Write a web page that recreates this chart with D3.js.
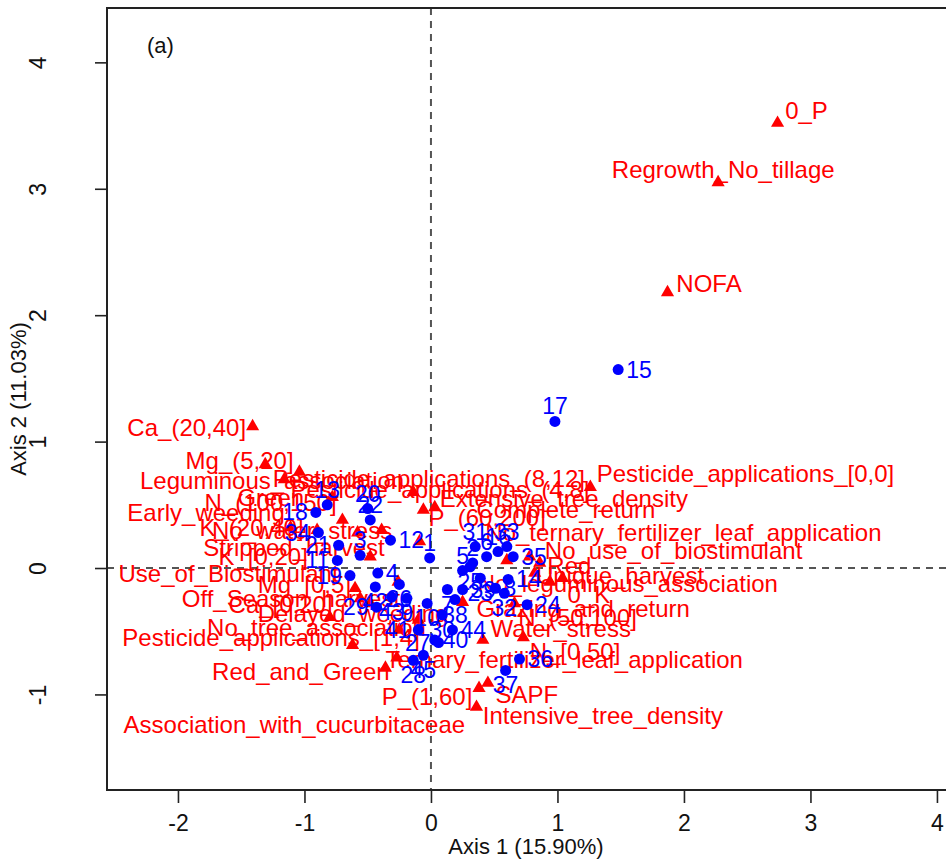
<!DOCTYPE html>
<html>
<head>
<meta charset="utf-8">
<script src="https://cdn.jsdelivr.net/npm/d3@7"></script>
<style>
  body { margin: 0; background: #fff; }
  svg { display: block; }
  .pt { font-family: "Liberation Sans", Arial, Helvetica, sans-serif; }
  .ax { font-family: "Liberation Sans Narrow", "Liberation Sans", Arial, sans-serif; }
</style>
</head>
<body>
<div id="chart"></div>
<script>
// individuals (blue dots), MCA coordinates
const indIds = [1, 2, 3, 4, 5, 6, 7, 8, 9, 10, 11, 12, 13, 14, 15, 16, 17, 18, 19, 20, 21, 22, 23,
    24, 25, 26, 27, 28, 29, 30, 31, 32, 33, 34, 35, 36, 37, 38, 39, 40, 41, 42, 43, 44, 45]
const indX = [-0.01, 0.33, -0.56, -0.42, 0.25, 0.44, 0.13, 0.51, -0.19, -0.03, -0.74, -0.32, -0.82, 0.61,
    1.48, 0.53, 0.98, -0.91, -0.64, -0.50, -0.73, -0.48, 0.39, 0.76, 0.31, -0.25, 0.06, -0.14, -0.43,
    0.09, 0.35, 0.58, 0.60, -0.89, 0.65, 0.70, 0.59, 0.19, 0.25, 0.03, -0.10, -0.44, -0.31, 0.17, -0.06]
const indY = [0.08, 0.04, 0.10, -0.04, -0.02, 0.09, -0.17, -0.16, -0.24, -0.28, 0.06, 0.22, 0.50, -0.09,
    1.57, 0.13, 1.16, 0.44, -0.06, 0.47, 0.18, 0.38, -0.08, -0.29, 0.01, -0.13, -0.59, -0.73, -0.31,
    -0.37, 0.17, -0.20, 0.17, 0.28, 0.09, -0.72, -0.81, -0.25, -0.17, -0.57, -0.49, -0.15, -0.23, -0.49, -0.69]
// label side as in R text(pos=): 1 below, 2 left, 3 above, 4 right
const indPos = [3, 3, 3, 4, 3, 3, 1, 4, 1, 1, 2, 4, 3, 4, 4, 3, 3, 2, 2, 3, 2, 3, 1,
    4, 1, 1, 2, 1, 2, 1, 3, 1, 3, 2, 4, 4, 1, 1, 4, 4, 2, 1, 1, 4, 1]

// variable categories (red triangles)
const catNames = ['0_P', 'Regrowth_No_tillage', 'NOFA', 'Pesticide_applications_[0,0]', 'Ca_(20,40]',
    'Mg_(5,20]', 'Leguminous_association', 'Pesticide_applications_(8,12]', 'Pesticide_applications_(4,8]',
    'Green', 'Early_weeding', 'N_(100,150]', 'K_(20,40]', 'No_water_stress', 'Stripped_harvest',
    'K_[0,20]', 'Use_of_Biostimulant', 'Mg_[0,5]', 'Off_Season_harvest', 'Ca_[0,20]', 'Delayed_weeding',
    'No_tree_association', 'Pesticide_applications_[1,4]', 'Red_and_Green',
    'Ternary_fertilizer_leaf_application', 'Association_with_cucurbitaceae', 'P_(1,60]', 'SAPF',
    'Intensive_tree_density', 'Water_stress', 'N_[0,50]', 'N_(50,100]', 'Grazing_and_return', '0_K',
    'No_leguminous_association', 'Unique_harvest', 'Red', 'No_use_of_biostimulant',
    'No_ternary_fertilizer_leaf_application', 'Extensive_tree_density', 'Complete_return', 'P_(60,200]']
const catX = [2.74, 2.27, 1.87, 1.26, -1.41, -1.31, -1.16, -1.04, -0.14, -0.78, -1.11, -0.70, -0.90, -0.58,
    -0.39, -0.48, -0.26, -0.60, -0.56, -0.48, -0.10, -0.25, -0.62, -0.36, -0.27, -0.80, 0.38, 0.45, 0.36,
    0.41, 0.73, 0.66, 0.25, 0.94, 0.82, 1.04, 0.86, 0.78, 0.60, 0.03, -0.06, -0.09]
const catY = [3.52, 3.05, 2.18, 0.64, 1.12, 0.82, 0.70, 0.76, 0.60, 0.56, 0.32, 0.38, 0.30, 0.28, 0.30,
    0.09, -0.11, -0.16, -0.24, -0.28, -0.41, -0.49, -0.61, -0.79, -0.71, -0.39, -0.95, -0.91, -1.10,
    -0.57, -0.55, -0.28, -0.27, -0.11, -0.04, -0.08, 0.04, 0.09, 0.06, 0.48, 0.46, 0.21]
// where each label starts (left edge, vertical middle), as placed in the figure
const catLabX = [2.80, 1.43, 1.94, 1.31, -2.40, -1.94, -2.30, -1.25, -1.11, -1.53, -2.40, -1.79, -1.83,
    -1.73, -1.80, -1.68, -2.47, -1.37, -1.97, -1.60, -1.37, -1.77, -2.44, -1.73, -0.36, -2.43, -0.39,
    0.51, 0.41, 0.47, 0.78, 0.69, 0.36, 1.08, 0.37, 0.83, 0.92, 0.90, 0.43, 0.07, 0.36, -0.02]
const catLabY = [3.62, 3.15, 2.25, 0.75, 1.11, 0.85, 0.69, 0.71, 0.62, 0.56, 0.44, 0.52, 0.32, 0.30, 0.16,
    0.09, -0.04, -0.13, -0.24, -0.29, -0.36, -0.47, -0.55, -0.82, -0.72, -1.24, -1.02, -1.00, -1.17,
    -0.48, -0.66, -0.39, -0.32, -0.21, -0.12, -0.06, 0.02, 0.14, 0.28, 0.55, 0.46, 0.40]

const xTicks = [-2, -1, 0, 1, 2, 3, 4]
const yTicks = [-1, 0, 1, 2, 3, 4]
const xTitle = 'Axis 1 (15.90%)'
const yTitle = 'Axis 2 (11.03%)'
const panel = '(a)'

const width = 946, height = 859
const margin = {left: 107, top: 8, right: -6, bottom: 69}
const innerW = width - margin.left - margin.right
const innerH = height - margin.top - margin.bottom

const svg = d3.select('#chart').append('svg')
    .attr('width', width)
    .attr('height', height)

const g = svg.append('g')
    .attr('transform', `translate(${margin.left},${margin.top})`)

const x = d3.scaleLinear().domain([-2.561, 4.119]).range([0, innerW])
const y = d3.scaleLinear().domain([-1.756, 4.430]).range([innerH, 0])

// dashed origin lines
g.append('line')
    .attr('x1', x(0)).attr('x2', x(0)).attr('y1', 0).attr('y2', innerH)
    .attr('stroke', '#555').attr('stroke-width', 2).attr('stroke-dasharray', '7,6')
g.append('line')
    .attr('x1', 0).attr('x2', innerW).attr('y1', y(0)).attr('y2', y(0))
    .attr('stroke', '#555').attr('stroke-width', 2).attr('stroke-dasharray', '7,6')

// axes
const xAxis = g.append('g')
    .attr('class', 'ax')
    .attr('transform', `translate(0,${innerH})`)
    .call(d3.axisBottom(x).tickValues(xTicks).tickSize(13).tickPadding(12).tickFormat(d => String(d)))
const yAxis = g.append('g')
    .attr('class', 'ax')
    .call(d3.axisLeft(y).tickValues(yTicks).tickSize(12).tickFormat(d => String(d)))

for (const a of [xAxis, yAxis]) {
    a.select('.domain').remove()
    a.selectAll('line').attr('stroke', '#222').attr('stroke-width', 1.6)
    a.selectAll('text').attr('font-size', 23).attr('fill', '#111')
        .attr('font-family', '"Liberation Sans Narrow", "Liberation Sans", Arial, sans-serif')
}
yAxis.selectAll('text')
    .attr('x', null).attr('dy', null)
    .attr('text-anchor', 'middle')
    .attr('dominant-baseline', 'central')
    .attr('transform', 'translate(-69,0) rotate(-90)')

// axis titles
svg.append('text')
    .attr('class', 'ax')
    .attr('x', 526)
    .attr('y', 846)
    .attr('text-anchor', 'middle')
    .attr('dominant-baseline', 'central')
    .attr('font-size', 22)
    .attr('fill', '#111')
    .text(xTitle)
svg.append('text')
    .attr('class', 'ax')
    .attr('transform', `translate(18,${margin.top + innerH / 2}) rotate(-90)`)
    .attr('text-anchor', 'middle')
    .attr('dominant-baseline', 'central')
    .attr('font-size', 22)
    .attr('fill', '#111')
    .text(yTitle)

// panel letter
g.append('text')
    .attr('class', 'ax')
    .attr('x', 40).attr('y', 37)
    .attr('dominant-baseline', 'central')
    .attr('font-size', 22)
    .attr('fill', '#111')
    .text(panel)

// categories
const cats = catNames.map((name, i) => ({name, x: catX[i], y: catY[i], lx: catLabX[i], ly: catLabY[i]}))
const tri = d3.symbol().type(d3.symbolTriangle).size(75)

g.selectAll('.cat')
    .data(cats)
    .join('path')
    .attr('class', 'cat')
    .attr('d', tri)
    .attr('transform', d => `translate(${x(d.x)},${y(d.y)})`)
    .attr('fill', '#ff0000')

g.selectAll('.catlab')
    .data(cats)
    .join('text')
    .attr('class', 'catlab pt')
    .attr('x', d => x(d.lx))
    .attr('y', d => y(d.ly))
    .attr('dominant-baseline', 'central')
    .attr('font-size', 24)
    .attr('fill', '#ff0000')
    .text(d => d.name)

// individuals
const inds = indIds.map((id, i) => ({id, x: indX[i], y: indY[i], pos: indPos[i]}))
const off = 8

g.selectAll('.ind')
    .data(inds)
    .join('circle')
    .attr('class', 'ind')
    .attr('cx', d => x(d.x))
    .attr('cy', d => y(d.y))
    .attr('r', 5.5)
    .attr('fill', '#0000ff')

g.selectAll('.indlab')
    .data(inds)
    .join('text')
    .attr('class', 'indlab pt')
    .attr('x', d => x(d.x) + (d.pos === 4 ? off : d.pos === 2 ? -off : 0))
    .attr('y', d => y(d.y) + (d.pos === 1 ? 15 : d.pos === 3 ? -15 : 0))
    .attr('text-anchor', d => d.pos === 4 ? 'start' : d.pos === 2 ? 'end' : 'middle')
    .attr('dominant-baseline', 'central')
    .attr('font-size', 23)
    .attr('fill', '#0000ff')
    .text(d => d.id)

// frame
g.append('rect')
    .attr('x', 0).attr('y', 0)
    .attr('width', innerW).attr('height', innerH)
    .attr('fill', 'none')
    .attr('stroke', '#222')
    .attr('stroke-width', 2)
</script>
</body>
</html>
